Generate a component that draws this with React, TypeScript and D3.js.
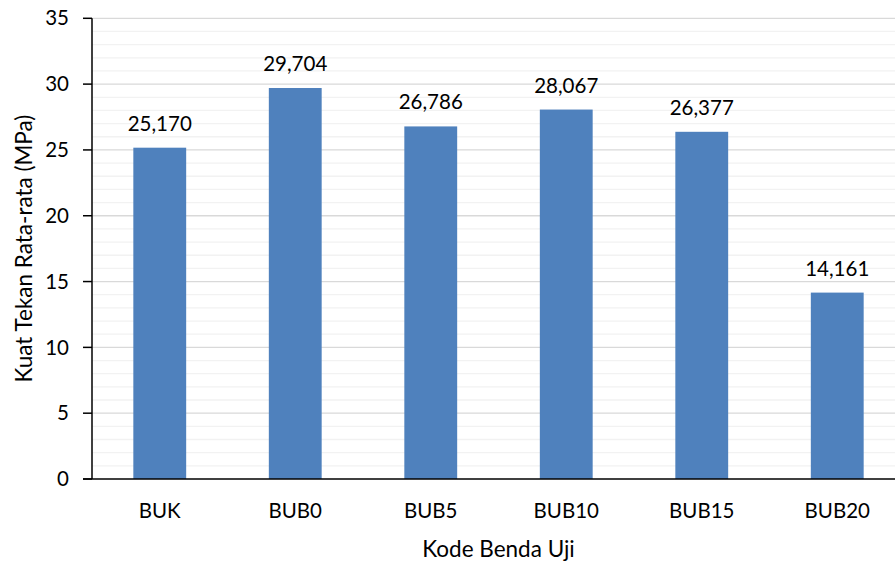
import React from "react";
import * as d3 from "d3";

const categories = ["BUK", "BUB0", "BUB5", "BUB10", "BUB15", "BUB20"];
const values = [25.17, 29.704, 26.786, 28.067, 26.377, 14.161];
const valueLabels = ["25,170", "29,704", "26,786", "28,067", "26,377", "14,161"];
const yTicks = [0, 5, 10, 15, 20, 25, 30, 35];
const minorTicks = d3.range(0, 36, 1);

const W = 895;
const H = 561;
const left = 92;
const right = 905;
const top = 18.3;
const bottom = 479;
const FONT = "Lato, 'Open Sans', sans-serif";
const FS = 20.5;
const TFS = 22.5;

export default function App() {
  const x = d3
    .scaleBand<string>()
    .domain(categories)
    .range([left, right])
    .paddingInner(0.61)
    .paddingOuter(0.305);
  const y = d3.scaleLinear().domain([0, 35]).range([bottom, top]);

  return (
    <svg
      width={W}
      height={H}
      style={{ position: "absolute", left: 0, top: 0, background: "#fff" }}
      fontFamily={FONT}
    >
      <rect x={0} y={0} width={W} height={H} fill="#fff" />
      {minorTicks
        .filter((t) => t % 5 !== 0)
        .map((t) => (
          <line key={"m" + t} x1={left} x2={W} y1={y(t)} y2={y(t)} stroke="#f2f2f2" strokeWidth={1.3} />
        ))}
      {yTicks
        .filter((t) => t !== 0)
        .map((t) => (
          <line key={"g" + t} x1={left} x2={W} y1={y(t)} y2={y(t)} stroke="#d9d9d9" strokeWidth={1.3} />
        ))}
      {categories.map((c, i) => (
        <rect
          key={c}
          x={x(c)}
          y={y(values[i])}
          width={x.bandwidth()}
          height={y(0) - y(values[i])}
          fill="#4f81bd"
        />
      ))}
      {categories.map((c, i) => (
        <text
          key={"l" + c}
          x={(x(c) as number) + x.bandwidth() / 2}
          y={y(values[i]) - 17}
          textAnchor="middle"
          fontSize={FS}
          fill="#000"
        >
          {valueLabels[i]}
        </text>
      ))}
      {/* axes */}
      <line x1={left} x2={left} y1={top} y2={bottom} stroke="#000" strokeWidth={1.5} />
      <line x1={left - 9} x2={W} y1={bottom} y2={bottom} stroke="#000" strokeWidth={1.5} />
      {yTicks.map((t) => (
        <g key={"t" + t}>
          <line x1={left - 9} x2={left} y1={y(t)} y2={y(t)} stroke="#000" strokeWidth={1.5} />
          <text x={69} y={y(t)} dy="0.35em" textAnchor="end" fontSize={FS} fill="#000">
            {t}
          </text>
        </g>
      ))}
      {categories.map((c) => (
        <text
          key={"x" + c}
          x={(x(c) as number) + x.bandwidth() / 2}
          y={518}
          textAnchor="middle"
          fontSize={FS}
          fill="#000"
        >
          {c}
        </text>
      ))}
      <text x={(left + right) / 2} y={557} textAnchor="middle" fontSize={TFS} fill="#000">
        Kode Benda Uji
      </text>
      <text
        transform={`translate(32, ${(top + bottom) / 2}) rotate(-90)`}
        textAnchor="middle"
        fontSize={TFS}
        fill="#000"
      >
        Kuat Tekan Rata-rata (MPa)
      </text>
    </svg>
  );
}
